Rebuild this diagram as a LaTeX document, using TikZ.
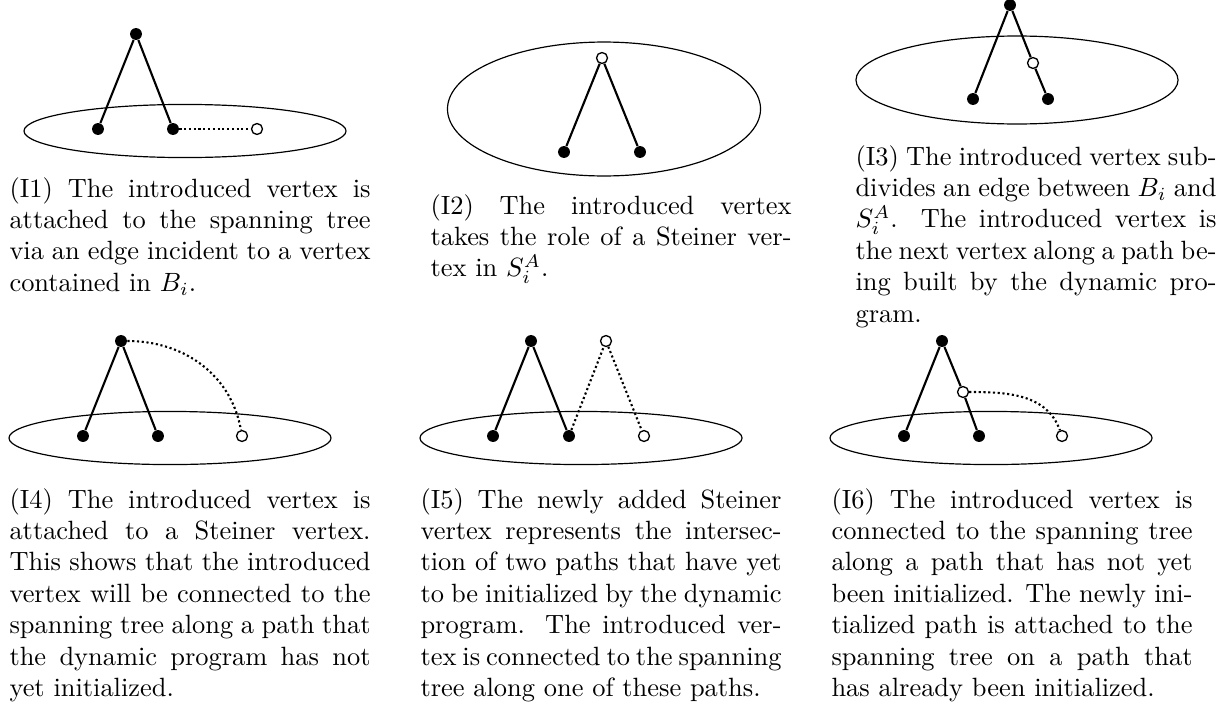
\documentclass[tikz,border=0pt]{standalone}
\usepackage{amsmath}
\usepackage{tikz}
\usetikzlibrary{shapes.geometric,positioning,calc}

\tikzset{
  bag/.style={ellipse,draw,line width=0.45pt,inner sep=0pt,minimum width=121.9pt,minimum height=20.1pt},
  vfull/.style={circle,fill=black,inner sep=0pt,minimum size=4.5pt},
  vopen/.style={circle,draw=black,fill=white,line width=0.5pt,inner sep=0pt,minimum size=4.15pt},
  treeedge/.style={line width=0.8pt},
  newedge/.style={line width=0.8pt,densely dotted},
  capt/.style={anchor=base west,inner sep=0pt,text width=136.65pt,align=justify,font=\fontsize{10pt}{11.9pt}\selectfont}
}

\begin{document}
\begin{tikzpicture}[x=0.37853pt,y=0.37853pt]
\useasboundingbox (0,0) rectangle (1231,-706);
% (I1)
\node[bag] (e1) at (185,-131) {};
\node[vfull] (t1) at ($(e1.center)+(-49,97)$) {};
\node[vfull] (a1) at ($(e1.center)+(-87,2)$) {};
\node[vfull] (b1) at ($(e1.center)+(-12,2)$) {};
\node[vopen] (n1) at ($(e1.center)+(72,2)$) {};
\draw[treeedge] (t1)--(a1);
\draw[treeedge] (t1)--(b1);
\draw[newedge] (b1)--(n1);
\node[capt] (c1) at (9,-197) {(I1) The introduced vertex is attached to the spanning tree via an edge incident to a vertex contained in $B_i$.};
% (I2)
\node[bag,minimum width=118.5pt,minimum height=50.7pt] (e2) at (604,-109) {};
\node[vopen] (n2) at ($(e2.center)+(-2,51)$) {};
\node[vfull] (a2) at ($(e2.center)+(-40,-43)$) {};
\node[vfull] (b2) at ($(e2.center)+(36,-43)$) {};
\draw[treeedge] (n2)--(a2);
\draw[treeedge] (n2)--(b2);
\node[capt] (c2) at (430,-214) {(I2) The introduced vertex takes the role of a Steiner vertex in $S_i^A$.};
% (I3)
\node[bag,minimum height=33.3pt] (e3) at (1017,-80) {};
\node[vfull] (t3) at ($(e3.center)+(-7,75)$) {};
\node[vfull] (a3) at ($(e3.center)+(-44,-19)$) {};
\node[vfull] (b3) at ($(e3.center)+(31,-19)$) {};
\node[vopen] (n3) at ($(e3.center)+(16,17)$) {};
\draw[treeedge] (t3)--(a3);
\draw[treeedge] (t3)--(n3);
\draw[treeedge] (n3)--(b3);
\node[capt] (c3) at (855,-165) {(I3) The introduced vertex subdivides an edge between $B_i$ and $S_i^A$. The introduced vertex is the next vertex along a path being built by the dynamic program.};
% (I4)
\node[bag] (e4) at (170,-438) {};
\node[vfull] (t4) at ($(e4.center)+(-49,97)$) {};
\node[vfull] (a4) at ($(e4.center)+(-87,2)$) {};
\node[vfull] (b4) at ($(e4.center)+(-12,2)$) {};
\node[vopen] (n4) at ($(e4.center)+(72,2)$) {};
\draw[treeedge] (t4)--(a4);
\draw[treeedge] (t4)--(b4);
\draw[newedge] (t4) to[out=0,in=100] (n4);
\node[capt] (c4) at (9,-508) {(I4) The introduced vertex is attached to a Steiner vertex. This shows that the introduced vertex will be connected to the spanning tree along a path that the dynamic program has not yet initialized.};
% (I5)
\node[bag] (e5) at (581,-438) {};
\node[vfull] (t5) at ($(e5.center)+(-50,97)$) {};
\node[vfull] (a5) at ($(e5.center)+(-88,2)$) {};
\node[vfull] (b5) at ($(e5.center)+(-12,2)$) {};
\node[vopen] (s5) at ($(e5.center)+(25,97)$) {};
\node[vopen] (n5) at ($(e5.center)+(63,2)$) {};
\draw[treeedge] (t5)--(a5);
\draw[treeedge] (t5)--(b5);
\draw[newedge] (b5)--(s5);
\draw[newedge] (s5)--(n5);
\node[capt] (c5) at (420,-508) {(I5) The newly added Steiner vertex represents the intersection of two paths that have yet to be initialized by the dynamic program. The introduced vertex is connected to the spanning tree along one of these paths.};
% (I6)
\node[bag] (e6) at (991,-438) {};
\node[vfull] (t6) at ($(e6.center)+(-49,97)$) {};
\node[vfull] (a6) at ($(e6.center)+(-87,2)$) {};
\node[vfull] (b6) at ($(e6.center)+(-12,2)$) {};
\node[vopen] (m6) at ($(e6.center)+(-28,46)$) {};
\node[vopen] (n6) at ($(e6.center)+(71,2)$) {};
\draw[treeedge] (t6)--(a6);
\draw[treeedge] (t6)--(m6);
\draw[treeedge] (m6)--(b6);
\draw[newedge] (m6) to[out=0,in=110] (n6);
\node[capt] (c6) at (831,-508) {(I6) The introduced vertex is connected to the spanning tree along a path that has not yet been initialized. The newly initialized path is attached to the spanning tree on a path that has already been initialized.};
\end{tikzpicture}
\end{document}
